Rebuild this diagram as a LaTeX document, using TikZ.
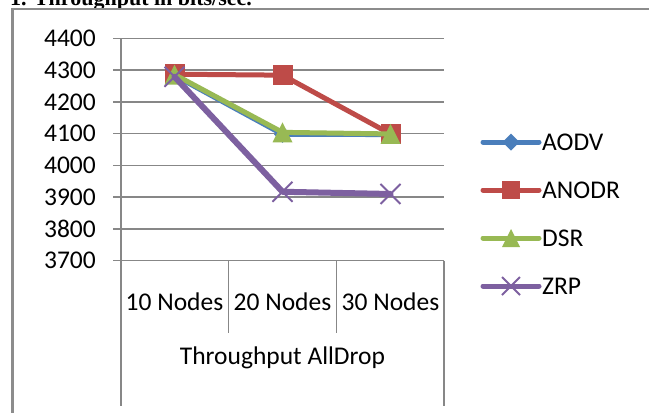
\documentclass[tikz,border=0pt]{standalone}
\usepackage{fontspec}
\setmainfont{Carlito}
\newfontfamily\headfont{Liberation Serif}

\definecolor{aodvc}{HTML}{4A7EBB}
\definecolor{anodrc}{HTML}{BE4B48}
\definecolor{dsrc}{HTML}{98B954}
\definecolor{zrpc}{HTML}{7D60A0}
\definecolor{gridc}{HTML}{878787}
\definecolor{framec}{HTML}{8C8C8C}

% marker shapes, drawn centred on a named coordinate
\newcommand\mkdiamond[3]{\fill[#1, shift={(#2)}] (0,-#3) -- (#3,0) -- (0,#3) -- (-#3,0) -- cycle;}
\newcommand\mksquare[3]{\fill[#1, shift={(#2)}] (-#3,-#3) rectangle (#3,#3);}
\newcommand\mktriangle[3]{\fill[#1, shift={(#2)}] (0,-#3) -- (#3,#3) -- (-#3,#3) -- cycle;}
\newcommand\mkcross[3]{\draw[#1, line width=2pt, shift={(#2)}] (-#3,-#3) -- (#3,#3) (-#3,#3) -- (#3,-#3);}

\tikzset{
  grid/.style={draw=gridc, line width=1.5pt},
  frame/.style={draw=framec, line width=2.5pt},
  chartfont/.style={font=\fontsize{25.5}{30}\selectfont, text=black, inner sep=0pt},
  series/.style={line width=5pt, line cap=round, line join=round},
}

\begin{document}
\begin{tikzpicture}[x=1pt, y=-1pt]
\useasboundingbox (0,0) rectangle (649,413);
\clip (0,0) rectangle (649,413);
\fill[white] (0,0) rectangle (649,413);

% heading, cut by the top edge
\node[anchor=base west, inner sep=0pt, font=\headfont\bfseries\fontsize{22}{26}\selectfont]
  (title) at (10,5.5) {1. Throughput in bits/sec.};

% chart frame
\draw[frame] (12.5,430) -- (12.5,9) -- (670,9);

% value axis: gridlines, tick labels and data points (y in data units)
\begin{scope}[y=0.3177pt, yshift=-1436.2pt]
  \foreach \v in {3700,3800,...,4400} {
    \draw[grid] (113,\v) -- (444,\v);
    \node[chartfont, anchor=east] (t\v) at (96,\v) {\v};
  }
  \coordinate (a1) at (174.5,4283); \coordinate (a2) at (282.5,4098); \coordinate (a3) at (390.5,4097);
  \coordinate (b1) at (174.5,4287); \coordinate (b2) at (282.5,4284); \coordinate (b3) at (390.5,4099);
  \coordinate (d1) at (174.5,4286); \coordinate (d2) at (282.5,4104); \coordinate (d3) at (390.5,4099);
  \coordinate (z1) at (174.5,4279); \coordinate (z2) at (282.5,3917); \coordinate (z3) at (390.5,3910);
\end{scope}

% category axis
\draw[grid] (121,38.3) -- (121,406);
\draw[grid] (444,260.7) -- (444,406);
\draw[grid] (228.5,260.7) -- (228.5,333);
\draw[grid] (336.5,260.7) -- (336.5,333);
\node[chartfont] (c1) at (174.5,302) {10 Nodes};
\node[chartfont] (c2) at (282.5,302) {20 Nodes};
\node[chartfont] (c3) at (390.5,302) {30 Nodes};
\node[chartfont] (xtitle) at (282.5,358) {Throughput AllDrop};

% series
\draw[series, aodvc] (a1) -- (a2) -- (a3);
\foreach \p in {a1,a2,a3} {\mkdiamond{aodvc}{\p}{8.5}}
\draw[series, anodrc] (b1) -- (b2) -- (b3);
\foreach \p in {b1,b2,b3} {\mksquare{anodrc}{\p}{10}}
\draw[series, dsrc] (d1) -- (d2) -- (d3);
\foreach \p in {d1,d2,d3} {\mktriangle{dsrc}{\p}{10}}
\draw[series, zrpc, line width=6pt] (z1) -- (z2) -- (z3);
\foreach \p in {z1,z2,z3} {\mkcross{zrpc}{\p}{10}}

% legend
\coordinate (la0) at (483,142); \coordinate (la1) at (539,142); \coordinate (lam) at (511,142);
\coordinate (lb0) at (483,190); \coordinate (lb1) at (539,190); \coordinate (lbm) at (511,190);
\coordinate (ld0) at (483,238); \coordinate (ld1) at (539,238); \coordinate (ldm) at (511,238);
\coordinate (lz0) at (483,286); \coordinate (lz1) at (539,286); \coordinate (lzm) at (511,286);
\draw[series, aodvc] (la0) -- (la1); \mkdiamond{aodvc}{lam}{8.5}
\draw[series, anodrc] (lb0) -- (lb1); \mksquare{anodrc}{lbm}{9}
\draw[series, dsrc] (ld0) -- (ld1); \mktriangle{dsrc}{ldm}{9}
\draw[series, zrpc] (lz0) -- (lz1); \mkcross{zrpc}{lzm}{9}
\node[chartfont, anchor=west] (ka) at (542,142) {AODV};
\node[chartfont, anchor=west] (kb) at (542,190) {ANODR};
\node[chartfont, anchor=west] (kd) at (542,238) {DSR};
\node[chartfont, anchor=west] (kz) at (542,286) {ZRP};
\end{tikzpicture}
\end{document}
